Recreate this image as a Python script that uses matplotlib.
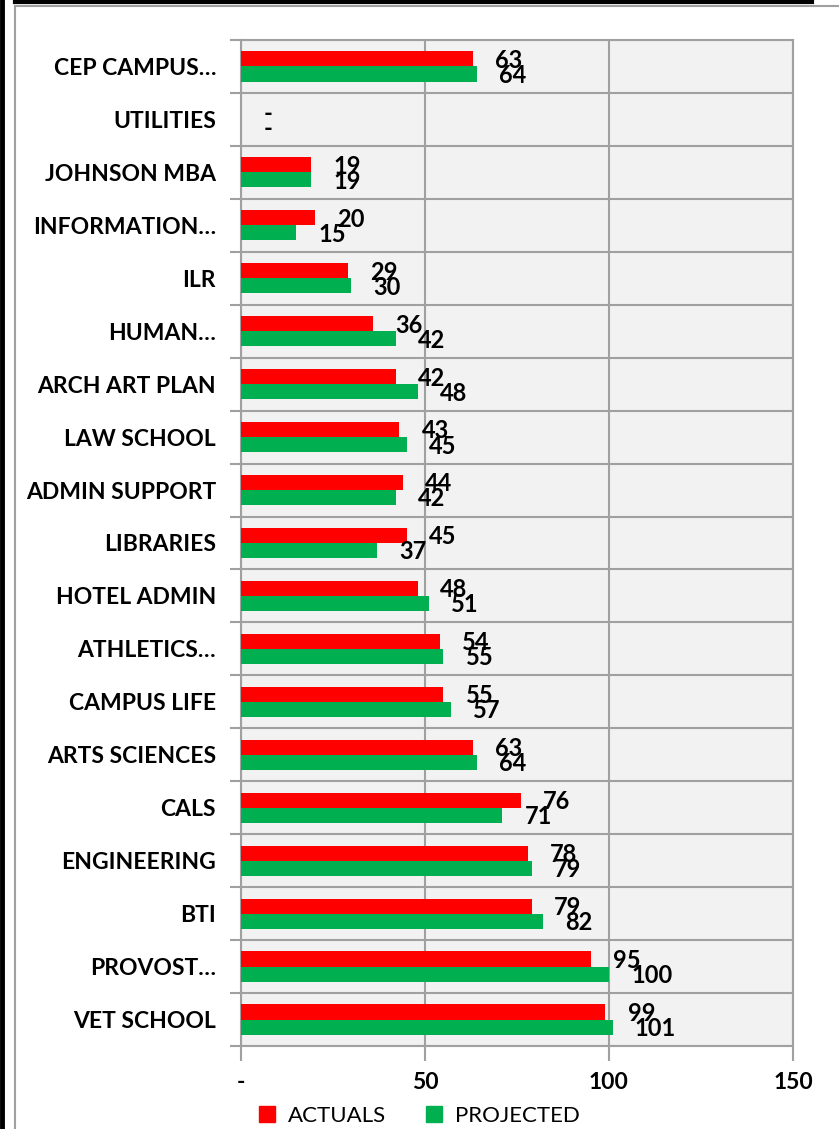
import numpy as np
import matplotlib
matplotlib.use('Agg')
import matplotlib.pyplot as plt
from matplotlib.patches import Patch
from matplotlib.lines import Line2D

# data (top to bottom)
departments = ['CEP CAMPUS…', 'UTILITIES', 'JOHNSON MBA', 'INFORMATION…', 'ILR', 'HUMAN…',
               'ARCH ART PLAN', 'LAW SCHOOL', 'ADMIN SUPPORT', 'LIBRARIES', 'HOTEL ADMIN',
               'ATHLETICS…', 'CAMPUS LIFE', 'ARTS SCIENCES', 'CALS', 'ENGINEERING', 'BTI',
               'PROVOST…', 'VET SCHOOL']
actuals = [63, 0, 19, 20, 29, 36, 42, 43, 44, 45, 48, 54, 55, 63, 76, 78, 79, 95, 99]
projected = [64, 0, 19, 15, 30, 42, 48, 45, 42, 37, 51, 55, 57, 64, 71, 79, 82, 100, 101]
xtick_vals = [0, 50, 100, 150]
xtick_labels = ['-', '50', '100', '150']

plt.rcParams['font.family'] = ['Lato', 'DejaVu Sans']

fig = plt.figure(figsize=(8.39, 11.29), dpi=100)
ax = fig.add_axes([241 / 839, 1 - 1046 / 1129, 552 / 839, 1006 / 1129])

y = np.arange(len(departments))
h = 0.285
ax.barh(y - h / 2, actuals, height=h, color='#FF0000', label='ACTUALS', zorder=3)
ax.barh(y + h / 2, projected, height=h, color='#00B050', label='PROJECTED', zorder=3)

# value labels, zero shown as "-"
for i in range(len(departments)):
    for val, off in [(actuals[i], -h / 2), (projected[i], h / 2)]:
        txt = '-' if val == 0 else str(val)
        ax.annotate(txt, (val, i + off), xytext=(16, -1), textcoords='offset points',
                    ha='left', va='center', fontsize=17, fontweight='bold', zorder=4)

ax.set_xlim(0, 150)
ax.set_ylim(len(departments) - 0.5, -0.5)
ax.set_facecolor('#F2F2F2')

ax.set_xticks(xtick_vals)
ax.set_xticklabels(xtick_labels, fontsize=16.5, fontweight='bold')
ax.set_yticks(y)
ax.set_yticklabels(departments, fontsize=16.5, fontweight='bold')
ax.set_yticks(np.arange(len(departments) + 1) - 0.5, minor=True)
ax.tick_params(axis='y', which='major', length=0, pad=18)
ax.tick_params(axis='y', which='minor', length=8, color='#A0A0A0', width=1.5)
ax.tick_params(axis='x', which='major', length=11, color='#A0A0A0', width=1.5, pad=8)

ax.grid(axis='x', color='#A0A0A0', linewidth=1.5, zorder=1)
ax.grid(axis='y', which='minor', color='#A0A0A0', linewidth=1.5, zorder=1)
for s in ax.spines.values():
    s.set_color('#A0A0A0')
    s.set_linewidth(1.5)

fig.legend(handles=[Patch(color='#FF0000', label='ACTUALS'), Patch(color='#00B050', label='PROJECTED')],
           loc='center', bbox_to_anchor=(0.5, 1 - 1116 / 1129), ncol=2, frameon=False,
           fontsize=16, handlelength=0.7, handleheight=0.7, columnspacing=1.8, handletextpad=0.6)

# outer borders
fig.add_artist(Line2D([15 / 839, 1], [1 - 6 / 1129, 1 - 6 / 1129], color='#A0A0A0', linewidth=1.5))
fig.add_artist(Line2D([15 / 839, 15 / 839], [0, 1 - 6 / 1129], color='#A0A0A0', linewidth=1.5))
fig.add_artist(Line2D([15 / 839, 812 / 839], [1 - 1.5 / 1129, 1 - 1.5 / 1129], color='black', linewidth=3))
fig.add_artist(Line2D([2 / 839, 2 / 839], [0, 1], color='black', linewidth=3.5))

fig.savefig('out.png', dpi=100)
